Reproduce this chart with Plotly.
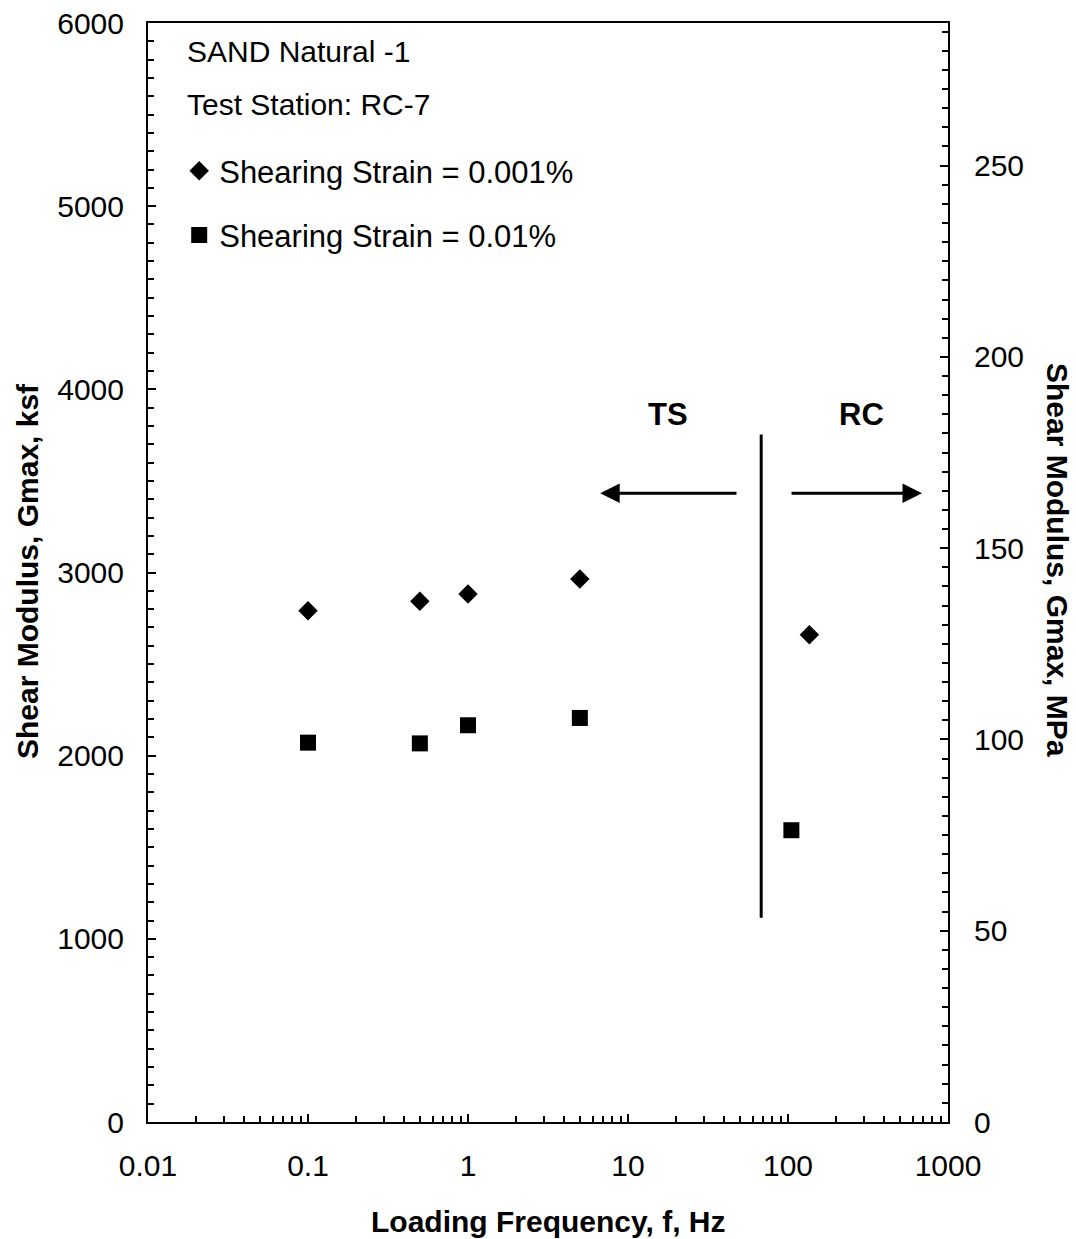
import numpy as np
import plotly.graph_objects as go

# Data
freq_001 = [0.1, 0.5, 1.0, 5.0, 136.0]
gmax_001 = [2791, 2843, 2882, 2964, 2660]
freq_01 = [0.1, 0.5, 1.0, 5.0, 105.0]
gmax_01 = [2071, 2067, 2166, 2206, 1593]

divider_x = [68.0, 68.0]
divider_y = [1115, 3754]

ksf_to_mpa = 0.04788
y_max_ksf = 6000
x_ticks = [0.01, 0.1, 1, 10, 100, 1000]
x_ticktext = ["0.01", "0.1", "1", "10", "100", "1000"]

FONT = "Liberation Sans, Arial, sans-serif"

fig = go.Figure()
fig.add_trace(go.Scatter(x=freq_001, y=gmax_001, mode="markers",
                         name="Shearing Strain = 0.001%",
                         legendgroup="a",
                         marker=dict(symbol="diamond", size=15, color="black")))
fig.add_trace(go.Scatter(x=freq_01, y=gmax_01, mode="markers",
                         name="Shearing Strain = 0.01%",
                         legendgroup="b",
                         marker=dict(symbol="square", size=16, color="black")))
fig.add_trace(go.Scatter(x=divider_x, y=divider_y, mode="lines", showlegend=False,
                         line=dict(color="black", width=3)))
# dummy trace for secondary axis
fig.add_trace(go.Scatter(x=[1], y=[0], yaxis="y2", mode="markers", showlegend=False,
                         marker=dict(opacity=0), hoverinfo="skip"))

tickfont = dict(family=FONT, size=30, color="black")

T, B = 23, 117
PH = 1239 - T - B

fig.update_layout(
    width=1076, height=1239,
    margin=dict(l=148, r=128, t=T, b=B),
    plot_bgcolor="white", paper_bgcolor="white",
    font=dict(family=FONT, color="black"),
    xaxis=dict(type="log", range=[-2, 3], tickvals=x_ticks, ticktext=x_ticktext,
               ticks="inside", ticklen=8, tickwidth=2, tickcolor="black",
               showline=True, linewidth=2, linecolor="black", mirror=True,
               showgrid=False, zeroline=False, tickfont=tickfont, ticklabelstandoff=16,
               automargin=False,
               minor=dict(ticks="inside", ticklen=6, tickwidth=1.5, tickcolor="black",
                          dtick="D1", showgrid=False)),
    yaxis=dict(range=[0, y_max_ksf], dtick=1000, ticks="inside", ticklen=8, tickwidth=2,
               tickcolor="black", showline=True, linewidth=2, linecolor="black",
               showgrid=False, zeroline=False, tickfont=tickfont, ticklabelstandoff=16,
               automargin=False,
               minor=dict(ticks="inside", ticklen=6, tickwidth=1.5, tickcolor="black",
                          dtick=100, showgrid=False)),
    yaxis2=dict(range=[0, y_max_ksf * ksf_to_mpa], dtick=50, overlaying="y", side="right",
                ticks="inside", ticklen=8, tickwidth=2, tickcolor="black",
                showline=True, linewidth=2, linecolor="black",
                showgrid=False, zeroline=False, tickfont=tickfont, ticklabelstandoff=18,
                automargin=False,
                minor=dict(ticks="inside", ticklen=6, tickwidth=1.5, tickcolor="black",
                           dtick=5, showgrid=False)),
    showlegend=True,
    legend=dict(x=0.039, y=(1122 - 144) / PH, xanchor="left", yanchor="top",
                font=dict(family=FONT, size=31, color="black"),
                bgcolor="rgba(0,0,0,0)", tracegroupgap=21, itemsizing="trace"),
)

annots = []
annots.append(dict(xref="paper", yref="paper", x=0.046, y=(1122 - 52) / PH, xanchor="left",
                   yanchor="middle", showarrow=False, text="SAND Natural -1",
                   font=dict(family=FONT, size=30)))
annots.append(dict(xref="paper", yref="paper", x=0.046, y=(1122 - 105) / PH, xanchor="left",
                   yanchor="middle", showarrow=False, text="Test Station: RC-7",
                   font=dict(family=FONT, size=30)))
annots.append(dict(xref="x", yref="y", x=np.log10(17.8), y=3863, showarrow=False,
                   text="<b>TS</b>", font=dict(family=FONT, size=31)))
annots.append(dict(xref="x", yref="y", x=np.log10(290), y=3863, showarrow=False,
                   text="<b>RC</b>", font=dict(family=FONT, size=31)))
# arrows
annots.append(dict(xref="x", yref="y", axref="x", ayref="y",
                   x=np.log10(6.7), y=3432, ax=np.log10(48.7), ay=3432,
                   showarrow=True, arrowhead=2, arrowsize=1.3, arrowwidth=3,
                   arrowcolor="black", text=""))
annots.append(dict(xref="x", yref="y", axref="x", ayref="y",
                   x=np.log10(688), y=3432, ax=np.log10(103), ay=3432,
                   showarrow=True, arrowhead=2, arrowsize=1.3, arrowwidth=3,
                   arrowcolor="black", text=""))
# axis titles
annots.append(dict(xref="paper", yref="paper", x=(548 - 148) / 800, y=(1122 - 1221) / PH,
                   xanchor="center", yanchor="middle", showarrow=False,
                   text="<b>Loading Frequency, f, Hz</b>", font=dict(family=FONT, size=30)))
annots.append(dict(xref="paper", yref="paper", x=(27 - 148) / 800, y=(1122 - 571) / PH,
                   xanchor="center", yanchor="middle", showarrow=False, textangle=-90,
                   text="<b>Shear Modulus, Gmax, ksf</b>", font=dict(family=FONT, size=30)))
annots.append(dict(xref="paper", yref="paper", x=(1058 - 148) / 800, y=(1122 - 560) / PH,
                   xanchor="center", yanchor="middle", showarrow=False, textangle=90,
                   text="<b>Shear Modulus, Gmax, MPa</b>", font=dict(family=FONT, size=30)))
fig.update_layout(annotations=annots)

fig.write_html("out.html")
